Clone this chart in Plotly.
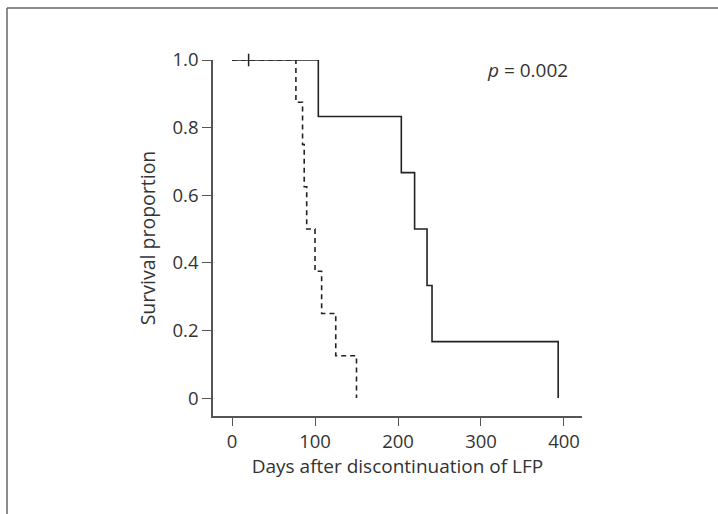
import plotly.graph_objects as go

# Data
solid_days = [0, 104, 204, 220, 235, 241, 393]
solid_surv = [1.0, 0.833, 0.667, 0.5, 0.333, 0.167, 0.0]
censor_days = [20]
censor_surv = [1.0]
dashed_days = [0, 77, 85, 87, 90, 100, 108, 125, 150]
dashed_surv = [1.0, 0.875, 0.75, 0.625, 0.5, 0.375, 0.25, 0.125, 0.0]

x_ticks = [0, 100, 200, 300, 400]
y_ticks = [0, 0.2, 0.4, 0.6, 0.8, 1.0]
y_tick_labels = ["0", "0.2", "0.4", "0.6", "0.8", "1.0"]

FONT = "Open Sans, Segoe UI, DejaVu Sans, sans-serif"
AX = "#555555"
TXT = "#333333"

fig = go.Figure()
fig.add_trace(go.Scatter(x=dashed_days, y=dashed_surv, mode="lines", line_shape="hv",
                         line=dict(color="#222222", width=1.6, dash="5px,4px"),
                         cliponaxis=False, showlegend=False))
fig.add_trace(go.Scatter(x=solid_days, y=solid_surv, mode="lines", line_shape="hv",
                         line=dict(color="#222222", width=1.6),
                         cliponaxis=False, showlegend=False))
fig.add_trace(go.Scatter(x=censor_days, y=censor_surv, mode="markers",
                         marker=dict(symbol="line-ns", size=9, line=dict(color="#222222", width=1.5)),
                         cliponaxis=False, showlegend=False))

fig.update_layout(
    width=718, height=514,
    margin=dict(l=213, r=136, t=60, b=98),
    paper_bgcolor="white", plot_bgcolor="white",
    font=dict(family=FONT, size=18, color=TXT),
    xaxis=dict(range=[-22.9, 421.7], tickvals=x_ticks, ticks="outside", ticklen=8,
               tickcolor=AX, tickwidth=1.3, showline=True, linecolor=AX, linewidth=1.5,
               showgrid=False, zeroline=False,
               tickfont=dict(family=FONT, size=18.5, color=TXT),
               title=dict(text="Days after discontinuation of LFP", standoff=8,
                          font=dict(family=FONT, size=19, color=TXT))),
    yaxis=dict(range=[-0.053, 1.0], tickvals=y_ticks, ticktext=y_tick_labels, ticks="outside",
               ticklen=9, tickcolor=AX, tickwidth=1.3, showline=True, linecolor=AX, linewidth=1.5,
               showgrid=False, zeroline=False,
               tickfont=dict(family=FONT, size=18.5, color=TXT),
               title=dict(text="Survival proportion", standoff=12,
                          font=dict(family=FONT, size=19.5, color=TXT))),
    annotations=[dict(text="<i>p</i> = 0.002", xref="paper", yref="paper",
                      x=(485 - 213) / 369, y=(416 - 70) / 356, xanchor="left", yanchor="middle",
                      showarrow=False, font=dict(family=FONT, size=19, color=TXT))],
    shapes=[
        dict(type="line", xref="paper", yref="paper",
             x0=(7 - 213) / 369, x1=(7 - 213) / 369,
             y0=(416 - 8) / 356, y1=(416 - 520) / 356,
             line=dict(color="#666666", width=1.5)),
        dict(type="line", xref="paper", yref="paper",
             x0=(7 - 213) / 369, x1=(725 - 213) / 369,
             y0=(416 - 8) / 356, y1=(416 - 8) / 356,
             line=dict(color="#666666", width=1.5)),
    ],
)

fig.write_html("out.html", config={"displayModeBar": False},
               post_script="document.body.style.margin='0';")
